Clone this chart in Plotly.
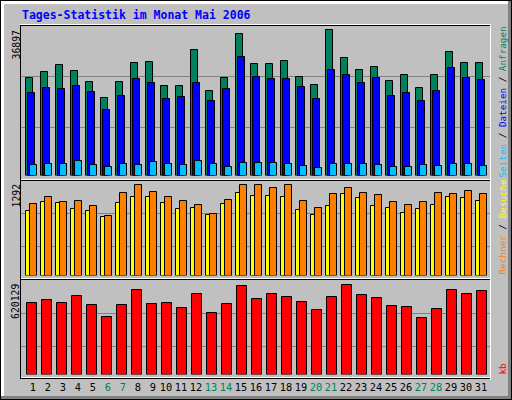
import plotly.graph_objects as go

W, H = 512, 400

# ---------------- data ----------------
days = list(range(1, 32))
day_labels = [str(d) for d in days]
weekend_days = [6, 7, 13, 14, 20, 21, 27, 28]

# Anfragen (hits, green)
hits = [24572, 26081, 27842, 26333, 23566, 19542, 23566, 28345, 28596, 22560,
        22560, 31614, 21303, 24572, 35639, 28093, 28093, 28848, 24824, 22812,
        36897, 29602, 26584, 27339, 23818, 25327, 22057, 25327, 31111, 28345,
        28345]
# Dateien (files, blue)
files = [20875, 22057, 21806, 22560, 21127, 16600, 20045, 24321, 23315, 19291,
         19794, 23315, 18788, 21806, 29854, 24824, 24321, 24321, 22309, 19291,
         26584, 25327, 23315, 24572, 20045, 20800, 18788, 21303, 27088, 24572,
         24069]
# Seiten (pages, cyan)
pages = [2767, 3018, 3018, 3697, 2767, 2264, 3018, 2767, 3521, 3018,
         2767, 3697, 3018, 2264, 3194, 3194, 3194, 3018, 2515, 2012,
         3018, 3018, 3018, 2767, 2264, 2264, 2767, 2515, 3018, 3018,
         2515]
# Besuche (visits, yellow)
visits = [913, 1039, 1025, 941, 913, 829, 1025, 1109, 1109, 1025,
          941, 955, 857, 1011, 1166, 1123, 1123, 1109, 927, 857,
          983, 1152, 1095, 983, 955, 885, 941, 997, 1109, 1095,
          1053]
# Rechner (sites, orange)
sites = [1011, 1109, 1039, 1053, 983, 843, 1166, 1292, 1180, 1109,
         1053, 997, 871, 1067, 1285, 1288, 1236, 1283, 1053, 955,
         1152, 1236, 1166, 1137, 1039, 997, 1039, 1166, 1152, 1194,
         1152]
# kb (red)
kbytes = [492696, 513140, 492696, 540398, 479066, 397291, 479066, 581285, 485881, 492696,
          458622, 554027, 424550, 485881, 608544, 519955, 554027, 533583, 499511, 444992,
          533583, 620129, 547213, 526768, 472251, 465437, 390477, 451807, 581285, 554027,
          574471]

title_text = "Tages-Statistik im Monat Mai 2006"
max_labels = ["36897", "1292", "620129"]

# ---------------- colours ----------------
C_HITS = "#00805C"
C_FILES = "#0000FF"
C_PAGES = "#00C0FF"
C_VISITS = "#FFFF00"
C_SITES = "#FF8000"
C_KB = "#FF0000"
GREY = "#C0C0C0"
DKGREY = "#808080"


def px_x(p):
    return p / W


def px_y(p):
    return 1 - p / H


# day k sits at pixel 31 + 15*(k-1); axis spans pixels 20..491
X0 = 1 - 11 / 15
X1 = X0 + 471 / 15
XDOM = [px_x(20), px_x(491)]

fig = go.Figure()


def add_bar(vals, color, off_px, w_px, yaxis, xaxis):
    fig.add_trace(go.Bar(
        x=days, y=vals, offset=off_px / 15, width=w_px / 15,
        marker=dict(color=color, line=dict(color="black", width=1)),
        xaxis=xaxis, yaxis=yaxis, hoverinfo="skip", showlegend=False))


add_bar(hits, C_HITS, -5.5, 7, "y", "x")
add_bar(files, C_FILES, -3.5, 7, "y", "x")
add_bar(pages, C_PAGES, -1.5, 7, "y", "x")
add_bar(visits, C_VISITS, -5.5, 4, "y2", "x2")
add_bar(sites, C_SITES, -1.5, 7, "y2", "x2")
add_bar(kbytes, C_KB, -4.5, 10, "y3", "x3")

# panel geometry (pixels): bottom (value 0), top of panel, pixel where max bar tops
panels = [
    (175.5, 25, 29.5, max(hits)),
    (275.5, 180, 184.5, max(sites)),
    (374.5, 280, 284.5, max(kbytes)),
]

ticktext = []
for d, lab in zip(days, day_labels):
    if d in weekend_days:
        ticktext.append("<span style='color:%s'>%s</span>" % (C_HITS, lab))
    else:
        ticktext.append(lab)
tickvals = [d + (0.13 if len(lab) == 1 else 0.0) for d, lab in zip(days, day_labels)]

layout = dict(
    width=W, height=H, margin=dict(l=0, r=0, t=0, b=0),
    paper_bgcolor=GREY, plot_bgcolor="rgba(0,0,0,0)",
    barmode="overlay", bargap=0, showlegend=False,
)
for i, (bot, top, maxpx, mx) in enumerate(panels):
    n = "" if i == 0 else str(i + 1)
    rmax = mx * (bot - top) / (bot - maxpx)
    layout["yaxis" + n] = dict(domain=[px_y(bot), px_y(top)], range=[0, rmax],
                               showgrid=False, zeroline=False, showticklabels=False,
                               showline=False, fixedrange=True,
                               anchor="x" + n)
    xa = dict(domain=XDOM, range=[X0, X1], showgrid=False, zeroline=False,
              showline=False, anchor="y" + n, fixedrange=True)
    if i == 2:
        xa.update(tickmode="array", tickvals=tickvals, ticktext=ticktext,
                  ticks="", ticklabelstandoff=5,
                  tickfont=dict(family="DejaVu Sans Mono", size=10.3, color="black"))
    else:
        xa.update(showticklabels=False)
    layout["xaxis" + n] = xa
fig.update_layout(**layout)

shapes = []


def rect(x0, y0, x1, y1, color, layer="above"):
    shapes.append(dict(type="rect", xref="paper", yref="paper",
                       x0=px_x(x0), x1=px_x(x1), y0=px_y(y0), y1=px_y(y1),
                       fillcolor=color, line=dict(width=0), layer=layer))


# gridlines
for row in [76, 127, 213, 246, 313, 346]:
    rect(21, row, 490, row + 1, DKGREY, layer="below")

# inner frame and separators
for row in [24, 179, 278, 377]:
    rect(20, row, 491, row + 1, "white")
for row in [25, 180, 279, 378]:
    rect(20, row, 491, row + 1, "black")
rect(20, 25, 21, 379, "black")
rect(490, 24, 491, 380, "white")

# outer 3D frame
rect(1, 1, 511, 4, "white")
rect(1, 1, 4, 399, "white")
rect(1, 396, 511, 399, DKGREY)
rect(508, 1, 511, 399, DKGREY)
rect(0, 0, 512, 1, "black")
rect(0, 399, 512, 400, "black")
rect(0, 0, 1, 400, "black")
rect(511, 0, 512, 400, "black")

fig.update_layout(shapes=shapes)

ann = []
ann.append(dict(text=title_text, xref="paper", yref="paper",
                x=px_x(20), y=px_y(14.5), xanchor="left", yanchor="middle",
                showarrow=False,
                font=dict(family="DejaVu Sans Mono", size=11.5, color="#0000FF",
                          weight="bold")))

for lab, ytop in zip(max_labels, [28, 182, 282]):
    ann.append(dict(text=lab, xref="paper", yref="paper", textangle=-90,
                    x=px_x(15.5), y=px_y(ytop), xanchor="center", yanchor="top",
                    showarrow=False,
                    font=dict(family="DejaVu Sans Mono", size=9.8, color="black")))

slash = "<span style='color:black'> / </span>"
right_labels = [
    ("<span style='color:%s'>Seiten</span>" % C_PAGES + slash +
     "<span style='color:%s'>Dateien</span>" % C_FILES + slash +
     "<span style='color:%s'>Anfragen</span>" % C_HITS, 179.5),
    ("<span style='color:%s'>Rechner</span>" % C_SITES + slash +
     "<span style='color:%s'>Besuche</span>" % C_VISITS, 277),
    ("<span style='color:%s'>kb</span>" % C_KB, 377),
]
for txt, ybot in right_labels:
    ann.append(dict(text=txt, xref="paper", yref="paper", textangle=-90,
                    x=px_x(501.5), y=px_y(ybot), xanchor="center", yanchor="bottom",
                    showarrow=False,
                    font=dict(family="DejaVu Sans Mono", size=9.3, color="black")))

fig.update_layout(annotations=ann)

fig.write_html(
    "out.html",
    config={"displayModeBar": False, "responsive": False},
    post_script="document.body.style.margin='0';document.body.style.padding='0';"
                "document.body.style.overflow='hidden';"
                "document.documentElement.style.overflow='hidden';",
)
